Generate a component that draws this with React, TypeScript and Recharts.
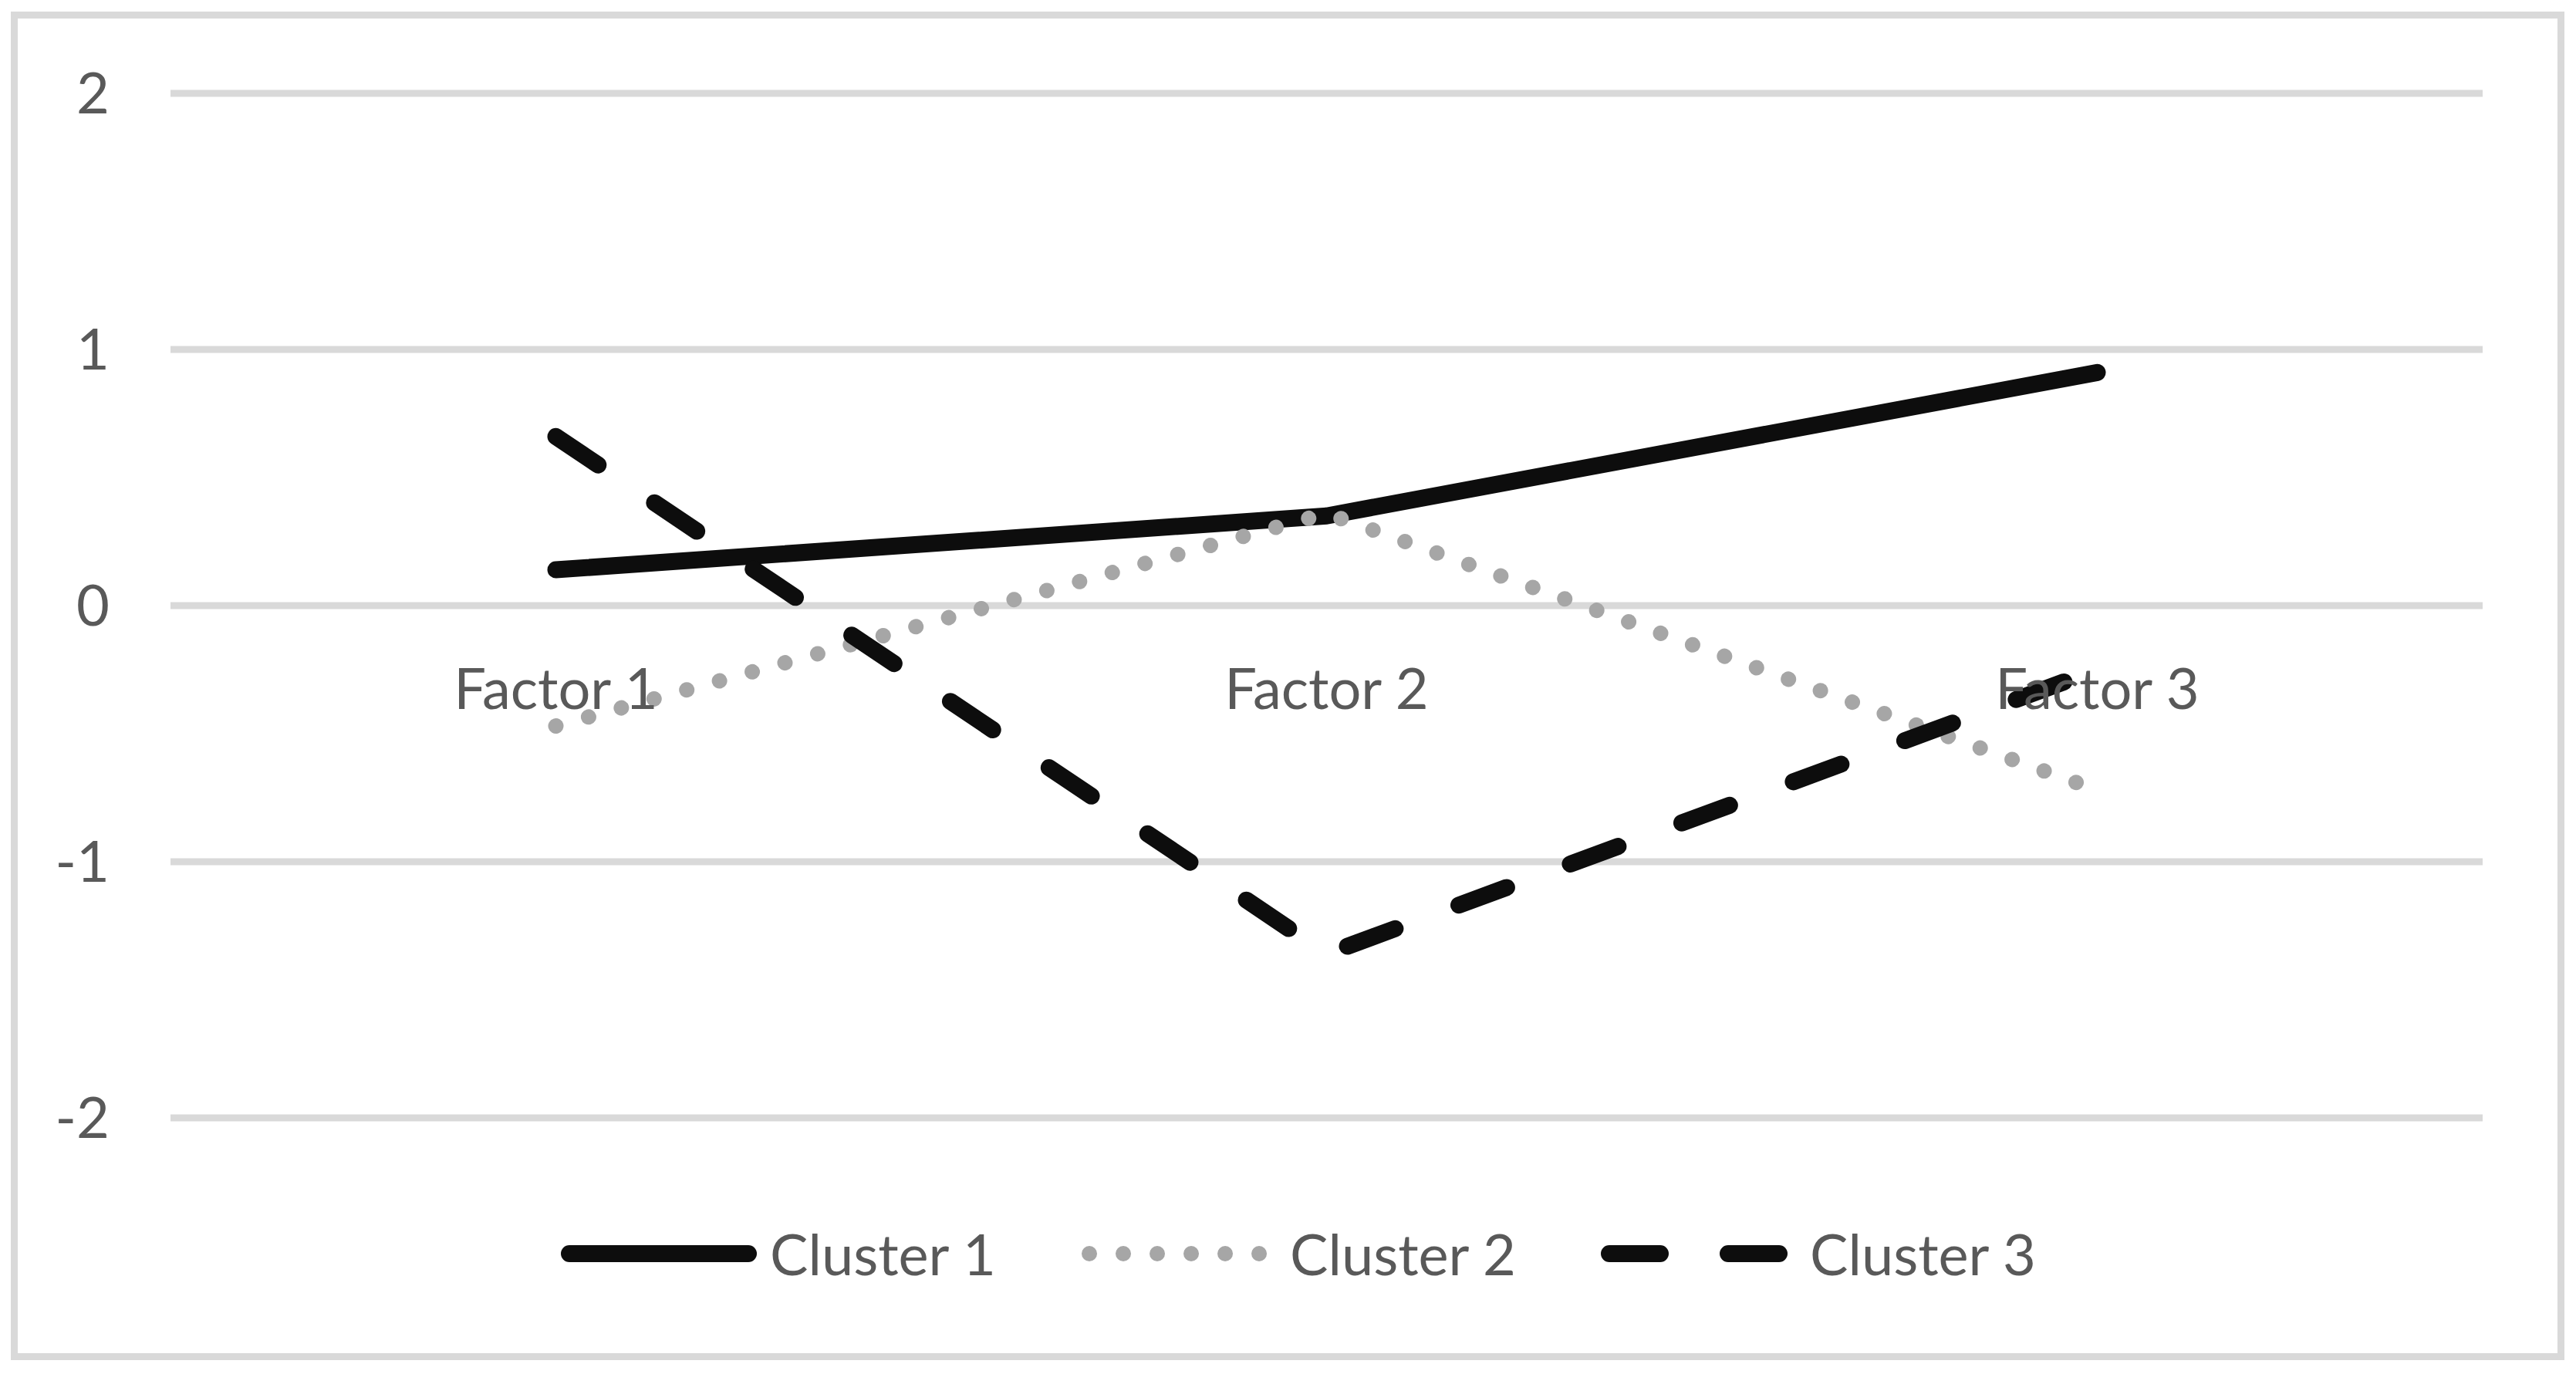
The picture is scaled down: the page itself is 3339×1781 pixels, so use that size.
import React from 'react';
import { LineChart, Line, XAxis, YAxis, CartesianGrid, Legend, ReferenceDot } from 'recharts';

const categories = ['Factor 1', 'Factor 2', 'Factor 3'];
const cluster1 = [0.14, 0.35, 0.91];
const cluster2 = [-0.47, 0.36, -0.72];
const cluster3 = [0.66, -1.36, -0.25];
const yTicks = [-2, -1, 0, 1, 2];
const seriesKeys = ['c1', 'c2', 'c3'];
const seriesNames = ['Cluster 1', 'Cluster 2', 'Cluster 3'];
const seriesColors = ['#0d0d0d', '#a6a6a6', '#0d0d0d'];
const seriesDash = [undefined, '0.01 44', '66 88'];
const seriesWidth = [22, 20, 22];

const data = categories.map((name, i) => ({
  name,
  c1: cluster1[i],
  c2: cluster2[i],
  c3: cluster3[i],
}));

const FONT = "Lato, 'DejaVu Sans', sans-serif";
const TEXT = '#595959';

const renderLegend = (props: any) => {
  const payload = props.payload || [];
  return (
    <div style={{ display: 'flex', alignItems: 'center', height: 90 }}>
      {payload.map((entry: any) => {
        const i = seriesKeys.indexOf(entry.dataKey);
        return (
          <div key={entry.dataKey} style={{ display: 'flex', alignItems: 'center', width: 674 }}>
            <svg width={254} height={30} style={{ display: 'block' }}>
              <line
                x1={11}
                y1={15}
                x2={243}
                y2={15}
                stroke={seriesColors[i]}
                strokeWidth={seriesWidth[i]}
                strokeDasharray={seriesDash[i]}
                strokeLinecap="round"
              />
            </svg>
            <span style={{ marginLeft: 17, fontFamily: FONT, fontSize: 74, color: TEXT, lineHeight: '90px' }}>
              {seriesNames[i]}
            </span>
          </div>
        );
      })}
    </div>
  );
};

export default function App() {
  return (
    <div style={{ position: 'absolute', left: 0, top: 0, width: 3339, height: 1781, background: '#fff' }}>
      <div
        style={{
          position: 'absolute',
          left: 14,
          top: 15,
          width: 3310,
          height: 1748,
          border: '9px solid #d9d9d9',
          boxSizing: 'border-box',
        }}
      />
      <div style={{ position: 'absolute', left: 0, top: 0 }}>
        <LineChart width={3339} height={1781} data={data} margin={{ top: 121, right: 121, bottom: 332, left: 0 }}>
          <CartesianGrid vertical={false} stroke="#d9d9d9" strokeWidth={9} />
          <XAxis dataKey="name" hide padding={{ left: 499.5, right: 499.5 }} />
          <YAxis
            domain={[-2, 2]}
            ticks={yTicks}
            width={221}
            axisLine={false}
            tickLine={false}
            tickSize={0}
            tickMargin={79}
            tick={{ fill: TEXT, fontSize: 74, fontFamily: FONT }}
          />
          {categories.map((c) => (
            <ReferenceDot
              key={c}
              x={c}
              y={0}
              r={1}
              fill="none"
              stroke="none"
              label={{ value: c, position: 'bottom', offset: 80, fill: TEXT, fontSize: 74, fontFamily: FONT }}
            />
          ))}
          {seriesKeys.map((k, i) => (
            <Line
              key={k}
              dataKey={k}
              name={seriesNames[i]}
              stroke={seriesColors[i]}
              strokeWidth={seriesWidth[i]}
              strokeDasharray={seriesDash[i]}
              strokeLinecap="round"
              strokeLinejoin="round"
              dot={false}
              activeDot={false}
              isAnimationActive={false}
            />
          ))}
          <Legend
            content={renderLegend}
            layout="horizontal"
            verticalAlign="middle"
            align="center"
            wrapperStyle={{ left: 727, top: 1580, width: 2100 }}
          />
        </LineChart>
      </div>
    </div>
  );
}
